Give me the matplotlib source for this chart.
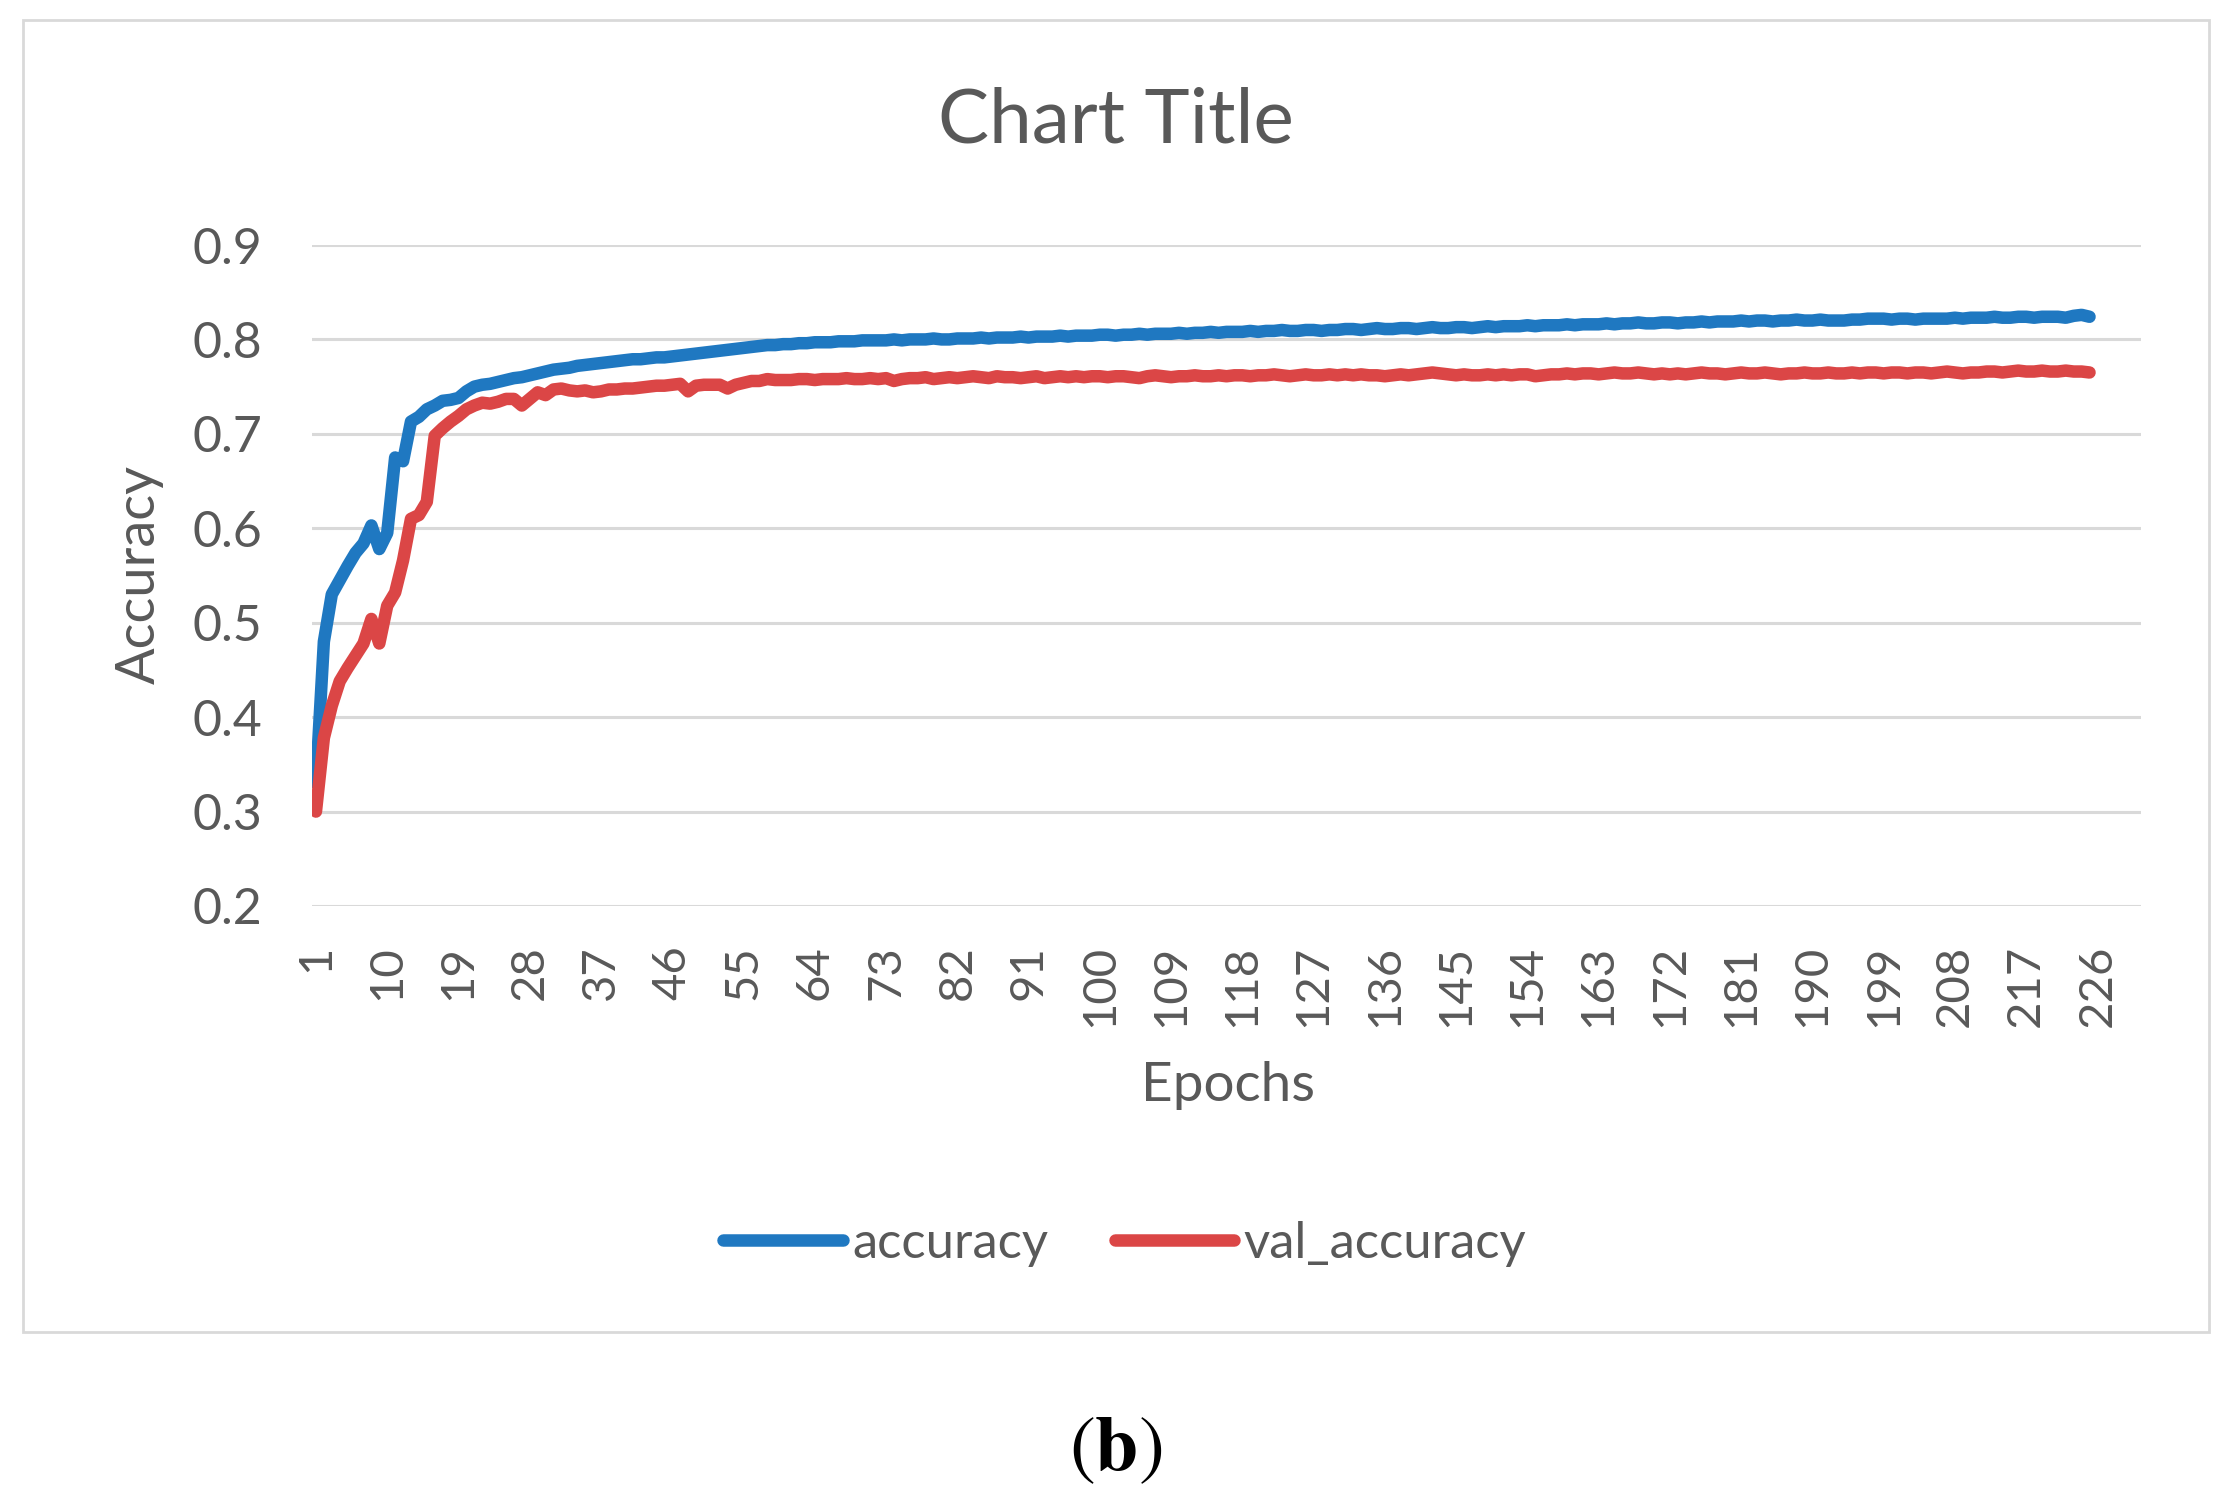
import matplotlib
matplotlib.use("Agg")
import matplotlib.pyplot as plt
from matplotlib.lines import Line2D
from matplotlib.patches import Rectangle
import numpy as np

accuracy = [
    0.330, 0.480, 0.530, 0.545, 0.560, 0.574, 0.584, 0.603, 0.578, 0.595,
    0.675, 0.671, 0.713, 0.718, 0.726, 0.730, 0.735, 0.736, 0.738, 0.745,
    0.750, 0.752, 0.753, 0.755, 0.757, 0.759, 0.760, 0.762, 0.764, 0.766,
    0.768, 0.769, 0.770, 0.772, 0.773, 0.774, 0.775, 0.776, 0.777, 0.778,
    0.779, 0.779, 0.780, 0.781, 0.781, 0.782, 0.783, 0.784, 0.785, 0.786,
    0.787, 0.788, 0.789, 0.790, 0.791, 0.792, 0.793, 0.794, 0.794, 0.795,
    0.795, 0.796, 0.796, 0.797, 0.797, 0.797, 0.798, 0.798, 0.798, 0.799,
    0.799, 0.799, 0.799, 0.800, 0.799, 0.800, 0.800, 0.800, 0.801, 0.800,
    0.800, 0.801, 0.801, 0.801, 0.802, 0.801, 0.802, 0.802, 0.802, 0.803,
    0.802, 0.803, 0.803, 0.803, 0.804, 0.803, 0.804, 0.804, 0.804, 0.805,
    0.805, 0.804, 0.805, 0.805, 0.806, 0.805, 0.806, 0.806, 0.806, 0.807,
    0.806, 0.807, 0.807, 0.808, 0.807, 0.808, 0.808, 0.808, 0.809, 0.808,
    0.809, 0.809, 0.810, 0.809, 0.809, 0.810, 0.810, 0.809, 0.810, 0.810,
    0.811, 0.811, 0.810, 0.811, 0.812, 0.811, 0.811, 0.812, 0.812, 0.811,
    0.812, 0.813, 0.812, 0.812, 0.813, 0.813, 0.812, 0.813, 0.814, 0.813,
    0.814, 0.814, 0.814, 0.815, 0.814, 0.815, 0.815, 0.815, 0.816, 0.815,
    0.816, 0.816, 0.816, 0.817, 0.816, 0.817, 0.817, 0.818, 0.817, 0.817,
    0.818, 0.818, 0.817, 0.818, 0.818, 0.819, 0.818, 0.819, 0.819, 0.819,
    0.820, 0.819, 0.820, 0.820, 0.819, 0.820, 0.820, 0.821, 0.820, 0.820,
    0.821, 0.820, 0.820, 0.820, 0.821, 0.821, 0.822, 0.822, 0.822, 0.821,
    0.822, 0.822, 0.821, 0.822, 0.822, 0.822, 0.822, 0.823, 0.822, 0.823,
    0.823, 0.823, 0.824, 0.823, 0.823, 0.824, 0.824, 0.823, 0.824, 0.824,
    0.824, 0.823, 0.825, 0.826, 0.824,
]

val_accuracy = [
    0.300, 0.378, 0.412, 0.438, 0.452, 0.465, 0.478, 0.504, 0.478, 0.518,
    0.532, 0.566, 0.610, 0.614, 0.628, 0.698, 0.706, 0.713, 0.719, 0.726,
    0.730, 0.733, 0.732, 0.734, 0.737, 0.737, 0.730, 0.737, 0.744, 0.741,
    0.747, 0.748, 0.746, 0.745, 0.746, 0.744, 0.745, 0.747, 0.747, 0.748,
    0.748, 0.749, 0.750, 0.751, 0.751, 0.752, 0.753, 0.745, 0.751, 0.752,
    0.752, 0.752, 0.748, 0.752, 0.754, 0.756, 0.756, 0.758, 0.757, 0.757,
    0.757, 0.758, 0.758, 0.757, 0.758, 0.758, 0.758, 0.759, 0.758, 0.758,
    0.759, 0.758, 0.759, 0.756, 0.758, 0.759, 0.759, 0.760, 0.758, 0.759,
    0.760, 0.759, 0.760, 0.761, 0.760, 0.759, 0.761, 0.760, 0.760, 0.759,
    0.760, 0.761, 0.759, 0.760, 0.761, 0.760, 0.761, 0.760, 0.761, 0.761,
    0.760, 0.761, 0.761, 0.760, 0.759, 0.761, 0.762, 0.761, 0.760, 0.761,
    0.761, 0.762, 0.761, 0.761, 0.762, 0.761, 0.762, 0.762, 0.761, 0.762,
    0.762, 0.763, 0.762, 0.761, 0.762, 0.763, 0.762, 0.762, 0.763, 0.762,
    0.763, 0.762, 0.763, 0.762, 0.762, 0.761, 0.762, 0.763, 0.762, 0.763,
    0.764, 0.765, 0.764, 0.763, 0.762, 0.763, 0.762, 0.762, 0.763, 0.762,
    0.763, 0.762, 0.763, 0.763, 0.761, 0.762, 0.763, 0.763, 0.764, 0.763,
    0.764, 0.764, 0.763, 0.764, 0.765, 0.764, 0.764, 0.765, 0.764, 0.763,
    0.764, 0.763, 0.764, 0.763, 0.764, 0.765, 0.764, 0.764, 0.763, 0.764,
    0.765, 0.764, 0.764, 0.765, 0.764, 0.763, 0.764, 0.764, 0.765, 0.764,
    0.764, 0.765, 0.764, 0.764, 0.765, 0.764, 0.765, 0.765, 0.764, 0.765,
    0.765, 0.764, 0.765, 0.765, 0.764, 0.765, 0.766, 0.765, 0.764, 0.765,
    0.765, 0.766, 0.766, 0.765, 0.766, 0.767, 0.766, 0.766, 0.767, 0.766,
    0.766, 0.767, 0.766, 0.766, 0.765,
]

n_categories = 231
tick_epochs = list(range(1, 227, 9))
y_ticks = [0.2, 0.3, 0.4, 0.5, 0.6, 0.7, 0.8, 0.9]

FONT = ["Lato", "DejaVu Sans"]
TXT = "#595959"
BLUE = "#1F78C1"
RED = "#DB4646"
GRID = "#D9D9D9"
LW = 9.0

plt.rcParams["font.family"] = FONT
plt.rcParams["mathtext.fontset"] = "stix"

W, H = 2226, 1506
fig = plt.figure(figsize=(W / 100, H / 100), dpi=100)
fig.patch.set_facecolor("white")

# chart border
fig.patches.append(Rectangle((23 / W, 1 - 1332 / H), (2209 - 23) / W, (1332 - 20) / H,
                             transform=fig.transFigure, fill=False,
                             edgecolor=GRID, linewidth=2.0))

ax = fig.add_axes([312 / W, 1 - 906 / H, (2141 - 312) / W, (906 - 245) / H])
epochs = np.arange(1, len(accuracy) + 1)

ax.set_xlim(0.5, n_categories + 0.5)
ax.set_ylim(0.2, 0.9)
ax.set_yticks(y_ticks)
ax.set_yticklabels([f"{v:.1f}" for v in y_ticks])
ax.set_xticks(tick_epochs)
ax.set_xticklabels([str(t) for t in tick_epochs], rotation=90, va="top", ha="center")

ax.grid(axis="y", color=GRID, linewidth=2.2, zorder=0)
ax.grid(axis="x", visible=False)
for s in ax.spines.values():
    s.set_visible(False)
ax.tick_params(axis="both", length=0, labelcolor=TXT)
ax.tick_params(axis="y", pad=36, labelsize=36)
ax.tick_params(axis="x", pad=28, labelsize=34)

ax.plot(epochs, accuracy, color=BLUE, linewidth=LW, solid_capstyle="round",
        solid_joinstyle="round", zorder=3)
ax.plot(epochs, val_accuracy, color=RED, linewidth=LW, solid_capstyle="round",
        solid_joinstyle="round", zorder=3)

fig.text(1116 / W, 1 - 121 / H, "Chart Title", ha="center", va="center",
         fontsize=55, color=TXT)
fig.text(139 / W, 1 - 575 / H, "Accuracy", ha="center", va="center",
         rotation=90, fontsize=39, color=TXT)
fig.text(1228 / W, 1 - 1085 / H, "Epochs", ha="center", va="center",
         fontsize=39.5, color=TXT)

handles = [Line2D([], [], color=BLUE, linewidth=LW, solid_capstyle="round"),
           Line2D([], [], color=RED, linewidth=LW, solid_capstyle="round")]
leg = fig.legend(handles, ["accuracy", "val_accuracy"], loc="center",
                 bbox_to_anchor=(1125 / W, 1 - 1244 / H), ncol=2, frameon=False,
                 fontsize=36.5, handlelength=2.35, handletextpad=0.2,
                 columnspacing=1.3)
for t in leg.get_texts():
    t.set_color(TXT)

fig.text(1116 / W, 1 - 1451 / H, r"$(\mathbf{b})$", ha="center", va="center",
         fontsize=56, color="black")

fig.savefig("out.png", dpi=100)
